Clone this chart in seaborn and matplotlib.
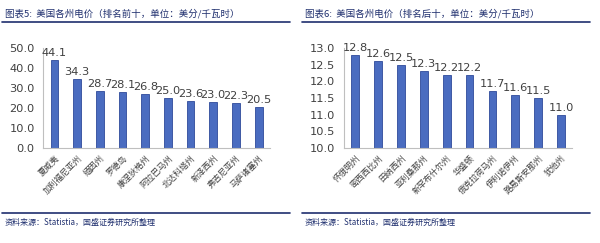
import matplotlib
matplotlib.use("Agg")
import matplotlib.pyplot as plt
import seaborn as sns
import pandas as pd
import numpy as np

sns.set_style("white")
plt.rcParams['font.family'] = ['Noto Sans CJK SC', 'DejaVu Sans']

top_states = ["夏威夷", "加利福尼亚州", "缅因州", "罗德岛", "康涅狄格州",
              "阿拉巴马州", "北达科塔州", "新泽西州", "弗吉尼亚州", "马萨诸塞州"]
top_values = [44.1, 34.3, 28.7, 28.1, 26.8, 25.0, 23.6, 23.0, 22.3, 20.5]

bottom_states = ["怀俄明州", "密西西比州", "田纳西州", "亚利桑那州", "新罕布什尔州",
                 "华盛顿", "俄克拉荷马州", "伊利诺伊州", "路易斯安那州", "犹他州"]
bottom_values = [12.8, 12.6, 12.5, 12.3, 12.2, 12.2, 11.7, 11.6, 11.5, 11.0]

titles = ["图表5:  美国各州电价（排名前十，单位：美分/千瓦时）",
          "图表6:  美国各州电价（排名后十，单位：美分/千瓦时）"]
source = "资料来源：Statistia，国盛证券研究所整理"

navy = "#1F2F6E"
bar_color = "#4A6CC0"
edge_color = "#2E4A9A"
text_grey = "#404040"

fig = plt.figure(figsize=(6, 2.43), dpi=100)

panels = [
    (top_states, top_values, (0.0, 50.0), 10.0, [0.072, 0.391, 0.378, 0.411], 0.0),
    (bottom_states, bottom_values, (10.0, 13.0), 0.5, [0.573, 0.391, 0.381, 0.411], 0.5),
]

for i, (cats, vals, ylim, step, rect, xoff) in enumerate(panels):
    df = pd.DataFrame({"state": cats, "value": vals})
    ax = fig.add_axes(rect)
    sns.barplot(data=df, x="state", y="value", ax=ax, color=bar_color,
                width=0.34, edgecolor=edge_color, linewidth=0.6, saturation=1)
    ax.set_ylim(*ylim)
    ticks = np.arange(ylim[0], ylim[1] + step / 2, step)
    ax.set_yticks(ticks)
    ax.set_yticklabels([f"{t:.1f}" for t in ticks], fontsize=8.2, color=text_grey,
                       family=['DejaVu Sans'])
    ax.set_xlim(-0.5, len(cats) - 0.5)
    ax.set_xlabel("")
    ax.set_ylabel("")
    ax.set_xticks(range(len(cats)))
    ax.set_xticklabels(cats, rotation=45, ha="right", rotation_mode="anchor",
                       fontsize=6, color=text_grey)
    for s in ["top", "right"]:
        ax.spines[s].set_visible(False)
    for s in ["left", "bottom"]:
        ax.spines[s].set_color("#BFBFBF")
        ax.spines[s].set_linewidth(0.8)
    ax.tick_params(axis="y", length=2, color="#BFBFBF", pad=6, direction="in")
    ax.tick_params(axis="x", length=0, pad=4)
    for c in ax.containers:
        ax.bar_label(c, fmt="%.1f", fontsize=8.2, color=text_grey, padding=1.5,
                     family=['DejaVu Sans'])

    # title and rules
    fig.text(xoff + 0.008, 0.945, titles[i], fontsize=6.8, color=navy,
             style="italic", va="center", ha="left")
    fig.add_artist(plt.Line2D([xoff + 0.003, xoff + 0.483], [0.908, 0.908],
                              color=navy, linewidth=1.2, transform=fig.transFigure))
    fig.add_artist(plt.Line2D([xoff + 0.003, xoff + 0.483], [0.123, 0.123],
                              color=navy, linewidth=1.2, transform=fig.transFigure))
    fig.text(xoff + 0.008, 0.085, source, fontsize=5.8, color=navy,
             style="italic", va="center", ha="left")

fig.savefig("out.png", dpi=100, facecolor="white")
